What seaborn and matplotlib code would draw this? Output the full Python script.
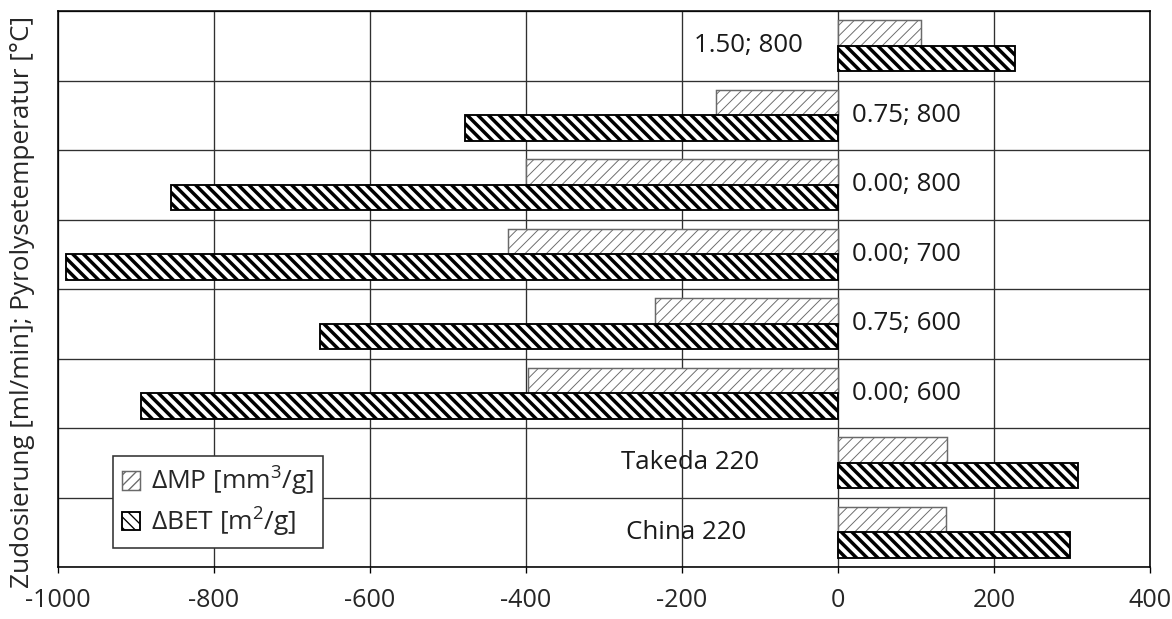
import numpy as np
import pandas as pd
import matplotlib
matplotlib.use("Agg")
import matplotlib.pyplot as plt
import seaborn as sns

# ---- data ----
categories = ["1.50; 800", "0.75; 800", "0.00; 800", "0.00; 700",
              "0.75; 600", "0.00; 600", "Takeda 220", "China 220"]
delta_mp = [106, -156, -400, -423, -234, -397, 140, 139]
delta_bet = [227, -478, -855, -990, -664, -894, 308, 297]
series_labels = [r"$\Delta$MP [mm$^{3}$/g]", r"$\Delta$BET [m$^{2}$/g]"]
x_ticks = [-1000, -800, -600, -400, -200, 0, 200, 400]
y_label = "Zudosierung [ml/min]; Pyrolysetemperatur [°C]"

sns.set_theme(style="white")
plt.rcParams['font.family'] = ['Open Sans', 'DejaVu Sans']
plt.rcParams['mathtext.fontset'] = 'custom'
plt.rcParams['mathtext.rm'] = 'Open Sans'
plt.rcParams['mathtext.it'] = 'Open Sans:italic'
plt.rcParams['mathtext.bf'] = 'Open Sans:bold'
plt.rcParams['axes.axisbelow'] = True

df = pd.DataFrame({
    "cat": categories * 2,
    "value": delta_mp + delta_bet,
    "series": [series_labels[0]] * len(categories) + [series_labels[1]] * len(categories),
})

DPI = 96
W, H = 1172, 619
fig = plt.figure(figsize=(W / DPI, H / DPI), dpi=DPI)
fig.patch.set_facecolor("white")
L, R, T, B = 58, 1150, 11, 567
ax = fig.add_axes([L / W, 1 - B / H, (R - L) / W, (B - T) / H])

sns.barplot(data=df, y="cat", x="value", hue="series", order=categories,
            hue_order=series_labels, orient="h", width=0.74,
            palette=["white", "white"], saturation=1, legend=False, ax=ax,
            zorder=3)

mp_cont, bet_cont = ax.containers[0], ax.containers[1]
for p in mp_cont:
    p.set_facecolor("white")
    p.set_edgecolor("#6a6a6a")
    p.set_hatch("///")
    p.set_linewidth(1.1)
    if hasattr(p, "set_hatch_linewidth"):
        p.set_hatch_linewidth(0.7)
for p in bet_cont:
    p.set_facecolor("white")
    p.set_edgecolor("black")
    p.set_hatch("\\\\\\")
    p.set_linewidth(1.4)
    if hasattr(p, "set_hatch_linewidth"):
        p.set_hatch_linewidth(2.6)

FS = 18.8
ax.set_xlim(x_ticks[0], x_ticks[-1])
ax.set_xticks(x_ticks)
ax.set_xticklabels([str(t) for t in x_ticks], fontsize=FS)
ax.tick_params(axis="x", direction="out", length=4.5, width=1.0, color="black",
               pad=11, bottom=True)
ax.set_yticks(np.arange(-0.5, len(categories), 1), minor=True)
ax.tick_params(axis="y", which="both", left=False, labelleft=False)
ax.grid(False)
ax.xaxis.grid(True, color="#303030", lw=1.0)
ax.yaxis.grid(True, which="minor", color="#303030", lw=1.0)
ax.set_xlabel("")
ax.set_ylabel(y_label, fontsize=19.6)
ax.yaxis.set_label_coords(-0.021, 0.477)
for s in ax.spines.values():
    s.set_visible(True)
    s.set_color("black")
    s.set_linewidth(1.2)

# category labels inside the plot (layout placement)
label_layout = {
    "1.50; 800": (-45, "right"),
    "Takeda 220": (-190, "center"),
    "China 220": (-195, "center"),
}
for i, cat in enumerate(categories):
    xpos, ha = label_layout.get(cat, (18, "left"))
    ax.text(xpos, i, cat, ha=ha, va="center", fontsize=19.4, color="#1a1a1a",
            zorder=4)

leg = ax.legend(handles=[mp_cont.patches[0], bet_cont.patches[0]],
                labels=series_labels, loc="lower left",
                bbox_to_anchor=(0.050, 0.034), borderaxespad=0,
                fontsize=19.8, frameon=True, fancybox=False, framealpha=1,
                edgecolor="#333333", handlelength=0.7, handleheight=0.7,
                handletextpad=0.4, borderpad=0.35, labelspacing=0.28)
leg.get_frame().set_linewidth(1.2)

fig.savefig("out.png", dpi=DPI, facecolor="white")
